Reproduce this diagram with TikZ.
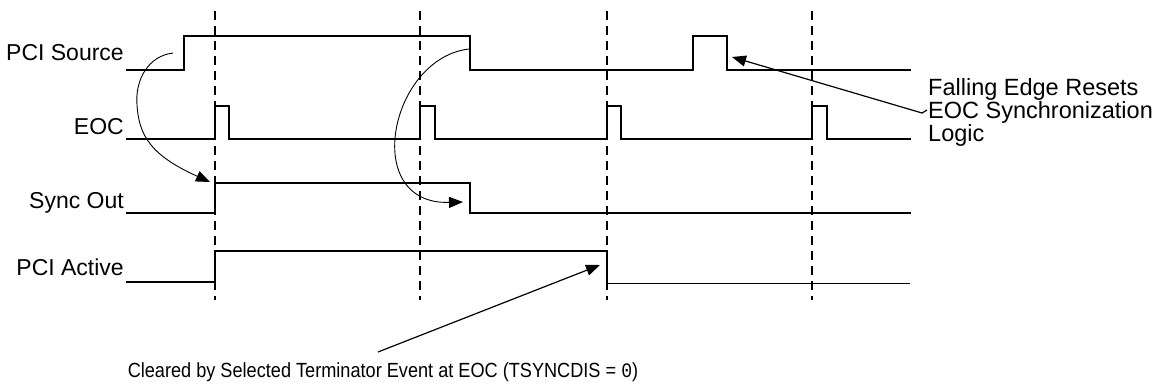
\documentclass[tikz,border=0pt]{standalone}
\usepackage{fontspec}
\setmainfont{Liberation Sans}
\newfontfamily\monofnt{Liberation Mono}
\usetikzlibrary{arrows.meta}
\begin{document}
\begin{tikzpicture}[x=1pt,y=-1pt,
  sig/.style={line width=2.4pt, line join=miter, line cap=rect},
  thinsig/.style={line width=1.2pt},
  guide/.style={line width=2.8pt, dash pattern=on 9pt off 6pt},
  lbl/.style={font=\fontsize{23}{26}\selectfont, anchor=base east, inner sep=0pt},
  note/.style={inner sep=0pt, align=left},
  tip/.style={-{Triangle[length=14pt,width=11pt]}},
  curvearrow/.style={tip, line width=0.9pt},
  straightarrow/.style={tip, line width=1.2pt},
]
\useasboundingbox (0,0) rectangle (1156,386);

% guides
\foreach \gx in {215,420,607,812} {
  \draw[guide] (\gx,11) -- (\gx,300);
}

% labels
\node[lbl] (lsrc) at (124,60) {PCI Source};
\node[lbl] (leoc) at (124,134) {EOC};
\node[lbl] (lsync) at (124,208) {Sync Out};
\node[lbl] (lact) at (124,275) {PCI Active};

% PCI Source
\draw[sig] (127,70) -- (184,70) -- (184,36);
\draw[thinsig] (184,36) -- (470,36) -- (470,70);
\draw[sig] (470,70) -- (693,70) -- (693,36) -- (727,36) -- (727,70) -- (910,70);

% EOC
\draw[sig] (127,139) -- (215,139) -- (215,106) -- (229,106) -- (229,139)
  -- (420,139) -- (420,106) -- (435,106) -- (435,139)
  -- (607,139) -- (607,106) -- (621,106) -- (621,139)
  -- (812,139) -- (812,106) -- (827,106) -- (827,139) -- (910,139);

% Sync Out
\draw[sig] (127,213) -- (215,213) -- (215,183) -- (470,183) -- (470,213) -- (910,213);

% PCI Active
\draw[sig] (127,282) -- (215,282) -- (215,251) -- (607,251) -- (607,283);
\draw[thinsig] (607,283.5) -- (910,283.5);

% annotation texts
\node[note, anchor=base west, font=\fontsize{23.5}{20}\selectfont] (nfall) at (928,141)
  {Falling Edge Resets\\EOC Synchronization\\Logic};
\node[note, anchor=base, font=\fontsize{20.5}{22}\selectfont, xscale=0.885] (nclr) at (383,377)
  {Cleared by Selected Terminator Event at EOC (TSYNCDIS = {\monofnt 0})};

% arrow anchor points
\coordinate (c1s) at (173,53);
\coordinate (c1m) at (137,105);
\coordinate (c1e) at (210,182);
\coordinate (c2s) at (469,49);
\coordinate (c2e) at (463,202);
\coordinate (a3s) at (927,110);
\coordinate (a3k) at (922,113);
\coordinate (a3e) at (732,57);
\coordinate (a4s) at (378,352);
\coordinate (a4e) at (600,265);

\draw[curvearrow] (c1s) .. controls (148,56) and (135,80) .. (c1m)
  .. controls (139,135) and (150,155) .. (c1e);
\draw[curvearrow] (c2s) .. controls (390,58) and (360,205) .. (c2e);
\draw[straightarrow] (a3s) -- (a3k) -- (a3e);
\draw[straightarrow] (a4s) -- (a4e);
\end{tikzpicture}
\end{document}
